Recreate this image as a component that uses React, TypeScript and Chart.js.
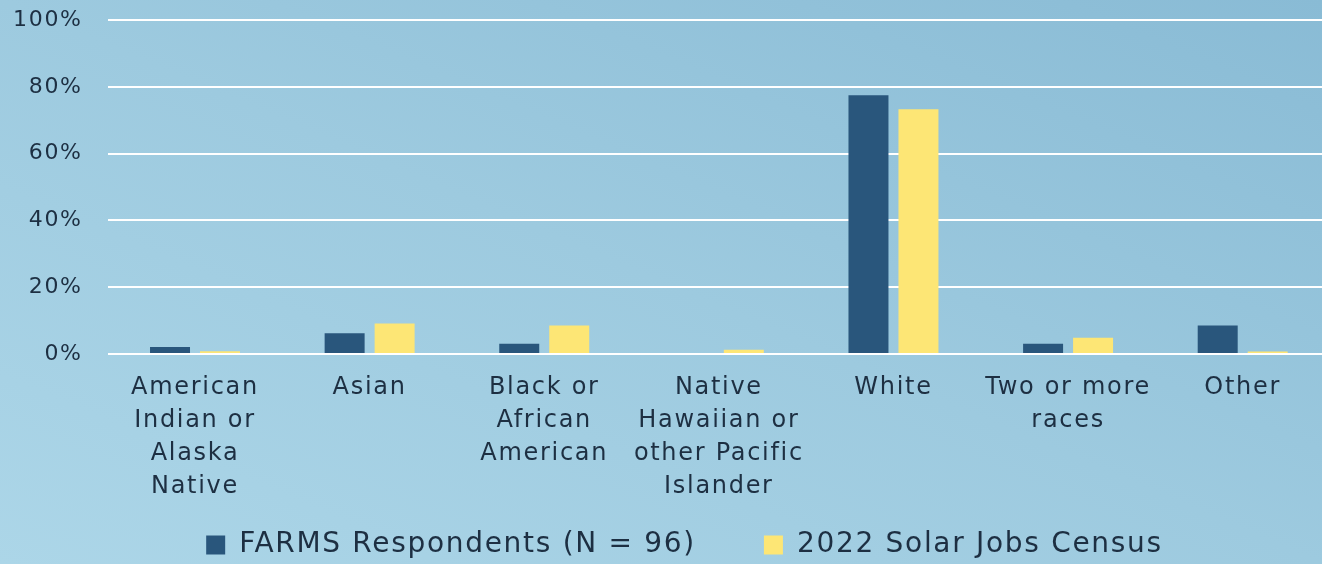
import React, { useEffect, useRef } from "react";
import { Chart, registerables } from "chart.js";

Chart.register(...registerables);

const categories: (string | string[])[] = [
  ["American", "Indian or", "Alaska", "Native"],
  "Asian",
  ["Black or", "African", "American"],
  ["Native", "Hawaiian or", "other Pacific", "Islander"],
  "White",
  ["Two or more", "races"],
  "Other",
];

const farmsLabel = "FARMS Respondents (N = 96)";
const censusLabel = "2022 Solar Jobs Census";

const farmsValues = [2.1, 6.25, 3.1, 0, 77.5, 3.1, 8.5];
const censusValues = [0.8, 9.1, 8.5, 1.3, 73.3, 4.9, 0.75];

const yTicks = [0, 20, 40, 60, 80, 100];

const NAVY = "#29567c";
const YELLOW = "#fde675";
const TEXT = "#1d2f42";
const FONT = "'DejaVu Sans', sans-serif";
const SPACING = "1.7px";

const letterSpacingPlugin = {
  id: "letterSpacing",
  beforeUpdate(c: any) {
    c.ctx.letterSpacing = SPACING;
  },
  afterLayout(c: any) {
    // let x tick labels extend below the axis box (no clipping)
    if (c.scales.x) c.scales.x.bottom = c.height;
    // center legend over the plot region like the reference
    if (c.legend) c.legend.left = 39;
  },
  beforeDraw(c: any) {
    c.ctx.letterSpacing = SPACING;
  },
};

export default function App() {
  const ref = useRef<HTMLCanvasElement | null>(null);

  useEffect(() => {
    if (!ref.current) return;
    const chart = new Chart(ref.current, {
      type: "bar",
      data: {
        labels: categories,
        datasets: [
          {
            label: farmsLabel,
            data: farmsValues,
            backgroundColor: NAVY,
            categoryPercentage: 0.5725,
            barPercentage: 0.8,
          },
          {
            label: censusLabel,
            data: censusValues,
            backgroundColor: YELLOW,
            categoryPercentage: 0.5725,
            barPercentage: 0.8,
          },
        ],
      },
      options: {
        responsive: false,
        maintainAspectRatio: false,
        animation: false,
        devicePixelRatio: 1,
        layout: { padding: { left: 0, right: 2, top: 20, bottom: 0 } },
        plugins: {
          tooltip: { enabled: false },
          legend: {
            position: "bottom",
            labels: {
              boxWidth: 19,
              boxHeight: 19,
              padding: 68,
              color: TEXT,
              font: { family: FONT, size: 28 },
            },
          },
        },
        scales: {
          x: {
            grid: { display: false, drawTicks: false },
            border: { display: false },
            ticks: {
              color: TEXT,
              padding: 17,
              maxRotation: 0,
              autoSkip: false,
              font: { family: FONT, size: 24, lineHeight: 1.375 },
            },
            afterFit: (scale: any) => {
              scale.height = 109;
            },
          },
          y: {
            min: 0,
            max: 100,
            afterBuildTicks: (scale: any) => {
              scale.ticks = yTicks.map((v) => ({ value: v }));
            },
            grid: { color: "#ffffff", lineWidth: 2, drawTicks: false },
            border: { display: false },
            ticks: {
              color: TEXT,
              padding: 25,
              font: { family: FONT, size: 22 },
              callback: (v: any) => `${v}%`,
            },
            afterFit: (scale: any) => {
              scale.width = 107.7;
              scale.paddingTop = 13;
              scale.paddingBottom = 13;
            },
          },
        },
      },
      plugins: [letterSpacingPlugin],
    });
    return () => chart.destroy();
  }, []);

  return (
    <div
      style={{
        position: "fixed",
        left: 0,
        top: 0,
        width: 1322,
        height: 564,
        overflow: "hidden",
        background:
          "linear-gradient(to top right, #acd6e8 0%, #9dcadf 50%, #89bbd5 100%)",
      }}
    >
      <canvas
        ref={ref}
        width={1332}
        height={569}
        style={{ position: "absolute", left: 0, top: 0 }}
      />
    </div>
  );
}
